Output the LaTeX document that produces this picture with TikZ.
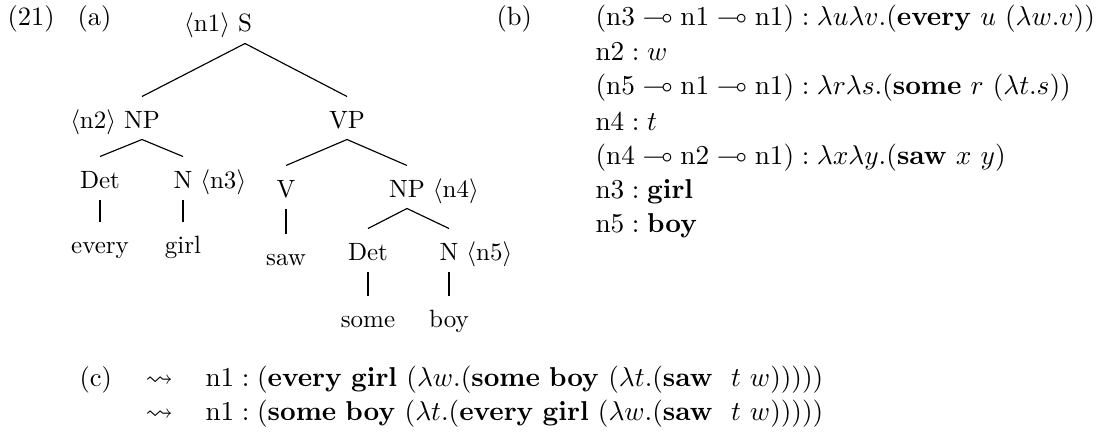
\documentclass[tikz,border=0pt]{standalone}
\usepackage{amssymb}
\begin{document}
\begin{tikzpicture}[x=1pt,y=-1pt,
  tree/.style={scale=2.5, inner sep=0pt, anchor=base, text height=12.4pt, text depth=4.4pt},
  tlab/.style={scale=2.5, inner sep=0pt},
  txt/.style={scale=2.73, inner sep=0pt, anchor=base west},
  lab/.style={scale=2.65, inner sep=0pt, anchor=base west},
  edge/.style={line width=1.15pt}]
\useasboundingbox (0,0) rectangle (1108,436);
% example labels
\node[lab] (ex) at (7,26) {(21)};
\node[lab] (la) at (77,26) {(a)};
\node[lab] (lb) at (496,26) {(b)};
\node[lab] (lc) at (79,386) {(c)};
% tree
\node[tree] (S) at (245,32) {S};
\node[tlab, anchor=base east] (iS) at ([xshift=-7]S.base west) {$\langle$n1$\rangle$};
\node[tree] (NP) at (142,128) {NP};
\node[tlab, anchor=base east] (iNP) at ([xshift=-7]NP.base west) {$\langle$n2$\rangle$};
\node[tree] (VP) at (347,128) {VP};
\node[tree] (D1) at (100,188) {Det};
\node[tree] (N1) at (183,188) {N};
\node[tlab, anchor=base west] (iN1) at ([xshift=7]N1.base east) {$\langle$n3$\rangle$};
\node[tree] (w1) at (100,253) {every};
\node[tree] (w2) at (183,253) {girl};
\node[tree] (V) at (286,197) {V};
\node[tree] (NP2) at (407,197) {NP};
\node[tlab, anchor=base west] (iNP2) at ([xshift=7]NP2.base east) {$\langle$n4$\rangle$};
\node[tree] (w3) at (286,265) {saw};
\node[tree] (D2) at (368,260) {Det};
\node[tree] (N2) at (449,260) {N};
\node[tlab, anchor=base west] (iN2) at ([xshift=7]N2.base east) {$\langle$n5$\rangle$};
\node[tree] (w4) at (368,327) {some};
\node[tree] (w5) at (449,327) {boy};
\draw[edge] (S.south) -- (NP.north);
\draw[edge] (S.south) -- (VP.north);
\draw[edge] (NP.south) -- (D1.north);
\draw[edge] (NP.south) -- (N1.north);
\draw[edge] (D1.south) -- (w1.north);
\draw[edge] (N1.south) -- (w2.north);
\draw[edge] (VP.south) -- (V.north);
\draw[edge] (VP.south) -- (NP2.north);
\draw[edge] (V.south) -- (w3.north);
\draw[edge] (NP2.south) -- (D2.north);
\draw[edge] (NP2.south) -- (N2.north);
\draw[edge] (D2.south) -- (w4.north);
\draw[edge] (N2.south) -- (w5.north);
% (b)
\node[txt] (b1) at (595,26) {$(\mathrm{n3} \multimap \mathrm{n1} \multimap \mathrm{n1}) : \lambda u\lambda v.(\mathbf{every}\ u\ (\lambda w.v))$};
\node[txt] (b2) at (595,61) {$\mathrm{n2} : w$};
\node[txt] (b3) at (595,95) {$(\mathrm{n5} \multimap \mathrm{n1} \multimap \mathrm{n1}) : \lambda r\lambda s.(\mathbf{some}\ r\ (\lambda t.s))$};
\node[txt] (b4) at (595,130) {$\mathrm{n4} : t$};
\node[txt] (b5) at (595,164) {$(\mathrm{n4} \multimap \mathrm{n2} \multimap \mathrm{n1}) : \lambda x\lambda y.(\mathbf{saw}\ x\ y)$};
\node[txt] (b6) at (595,198) {$\mathrm{n3} : \mathbf{girl}$};
\node[txt] (b7) at (595,232) {$\mathrm{n5} : \mathbf{boy}$};
% (c)
\node[txt] (s1) at (145,386) {$\leadsto$};
\node[txt] (s2) at (145,420) {$\leadsto$};
\node[txt] (c1) at (205,386) {$\mathrm{n1} : (\mathbf{every\ girl}\ (\lambda w.(\mathbf{some\ boy}\ (\lambda t.(\mathbf{saw}\ \ t\ w)))))$};
\node[txt] (c2) at (205,420) {$\mathrm{n1} : (\mathbf{some\ boy}\ (\lambda t.(\mathbf{every\ girl}\ (\lambda w.(\mathbf{saw}\ \ t\ w)))))$};
\end{tikzpicture}
\end{document}
